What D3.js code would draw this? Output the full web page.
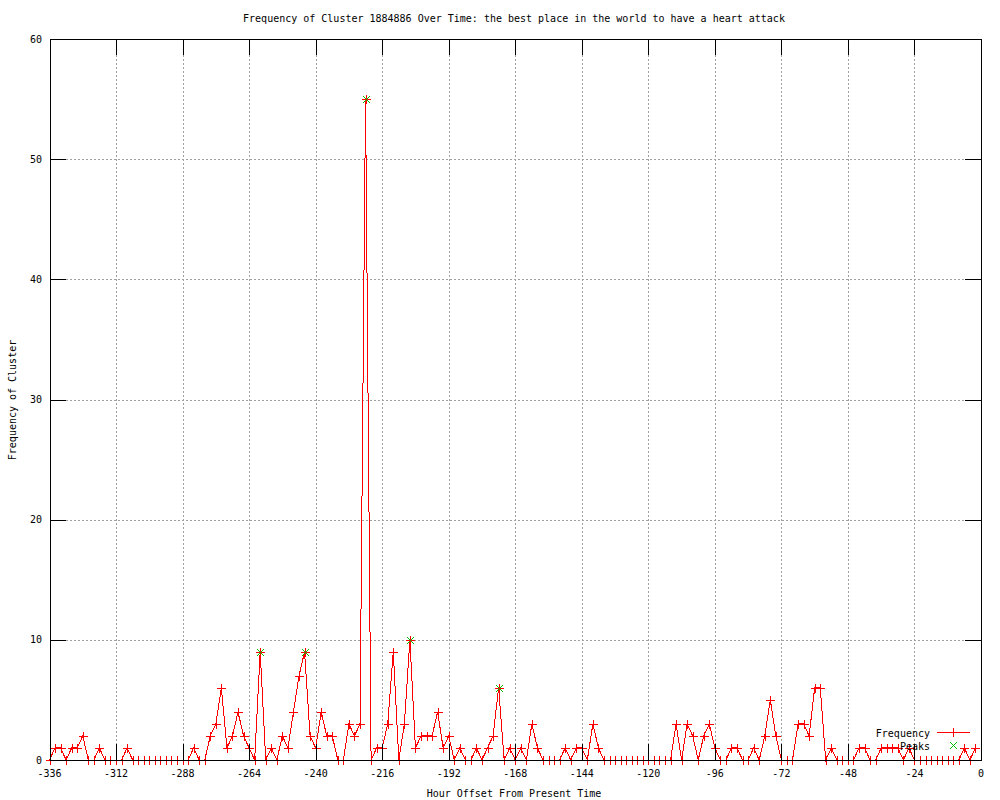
<!DOCTYPE html>
<html>
<head>
<meta charset="utf-8">
<script src="https://cdn.jsdelivr.net/npm/d3@7"></script>
<style>
  html, body { margin: 0; padding: 0; background: #fff; }
  svg text { font-family: "DejaVu Sans Mono", "Liberation Mono", monospace; font-size: 10px; fill: #000; }
</style>
</head>
<body>
<svg id="chart" width="1000" height="800"></svg>
<script>
// ---- data ----
const hours = [
  -336,-334,-332,-330,-328,-326,-324,-322,-320,-318,-316,-314,-312,-310,-308,-306,-304,-302,-300,-298,
  -296,-294,-292,-290,-288,-286,-284,-282,-280,-278,-276,-274,-272,-270,-268,-266,-264,-262,-260,-258,
  -256,-254,-252,-250,-248,-246,-244,-242,-240,-238,-236,-234,-232,-230,-228,-226,-224,-222,-220,-218,
  -216,-214,-212,-210,-208,-206,-204,-202,-200,-198,-196,-194,-192,-190,-188,-186,-184,-182,-180,-178,
  -176,-174,-172,-170,-168,-166,-164,-162,-160,-158,-156,-154,-152,-150,-148,-146,-144,-142,-140,-138,
  -136,-134,-132,-130,-128,-126,-124,-122,-120,-118,-116,-114,-112,-110,-108,-106,-104,-102,-100,-98,
  -96,-94,-92,-90,-88,-86,-84,-82,-80,-78,-76,-74,-72,-70,-68,-66,-64,-62,-60,-58,
  -56,-54,-52,-50,-48,-46,-44,-42,-40,-38,-36,-34,-32,-30,-28,-26,-24,-22,-20,-18,
  -16,-14,-12,-10,-8,-6,-4,-2
];
const frequency = [
  0,1,1,0,1,1,2,0,0,1,0,0,0,0,1,0,0,0,0,0,
  0,0,0,0,0,0,1,0,0,2,3,6,1,2,4,2,1,0,9,0,
  1,0,2,1,4,7,9,2,1,4,2,2,0,0,3,2,3,55,0,1,
  1,3,9,0,3,10,1,2,2,2,4,1,2,0,1,0,0,1,0,1,
  2,6,0,1,0,1,0,3,1,0,0,0,0,1,0,1,1,0,3,1,
  0,0,0,0,0,0,0,0,0,0,0,0,0,3,0,3,2,0,2,3,
  1,0,0,1,1,0,0,1,0,2,5,2,0,0,0,3,3,2,6,6,
  0,1,0,0,0,0,1,1,0,0,1,1,1,1,0,1,0,0,0,0,
  0,0,0,0,0,1,0,1
];
const peakHours = [-260, -244, -222, -206, -174];
const peakValues = [9, 9, 55, 10, 6];
const xTicks = [-336,-312,-288,-264,-240,-216,-192,-168,-144,-120,-96,-72,-48,-24,0];
const yTicks = [0,10,20,30,40,50,60];
const titleText = "Frequency of Cluster 1884886 Over Time: the best place in the world to have a heart attack";
const xLabel = "Hour Offset From Present Time";
const yLabel = "Frequency of Cluster";
const seriesNames = ["Frequency", "Peaks"];

// ---- layout ----
const L = 49.5, R = 981, T = 39, B = 760;
const svg = d3.select("#chart");
const x = d3.scaleLinear().domain([-336, 0]).range([L, R]);
const y = d3.scaleLinear().domain([0, 60]).range([B, T]);
const red = "#ff0000", green = "#00c000", gridCol = "#a0a0a0";
const tickLen = 16;

// grid
const grid = svg.append("g").attr("shape-rendering", "crispEdges");
xTicks.forEach(t => {
  if (t === -336 || t === 0) return;
  grid.append("line").attr("x1", Math.round(x(t)) + 0.5).attr("x2", Math.round(x(t)) + 0.5)
    .attr("y1", T + tickLen).attr("y2", B - tickLen)
    .attr("stroke", gridCol).attr("stroke-dasharray", "2,2");
});
yTicks.forEach(t => {
  if (t === 0 || t === 60) return;
  grid.append("line").attr("y1", Math.round(y(t)) + 0.5).attr("y2", Math.round(y(t)) + 0.5)
    .attr("x1", L + tickLen).attr("x2", R - tickLen)
    .attr("stroke", gridCol).attr("stroke-dasharray", "2,2");
});

// data
const pts = hours.map((h, i) => [h, frequency[i]]);
svg.append("path")
  .attr("d", d3.line().x(d => x(d[0])).y(d => y(d[1]))(pts))
  .attr("fill", "none").attr("stroke", red).attr("stroke-width", 1)
  .attr("shape-rendering", "crispEdges");

const plusPath = (cx, cy, r) => `M${cx - r},${cy}H${cx + r}M${cx},${cy - r}V${cy + r}`;
const xPath = (cx, cy, r) => `M${cx - r},${cy - r}L${cx + r},${cy + r}M${cx - r},${cy + r}L${cx + r},${cy - r}`;

svg.append("g").selectAll("path").data(pts).join("path")
  .attr("d", d => plusPath(Math.round(x(d[0])) + 0.5, Math.round(y(d[1])) + 0.5, 4.5))
  .attr("stroke", red).attr("fill", "none").attr("shape-rendering", "crispEdges");

svg.append("g").selectAll("path").data(peakHours.map((h, i) => [h, peakValues[i]])).join("path")
  .attr("d", d => xPath(Math.round(x(d[0])) + 0.5, Math.round(y(d[1])) + 0.5, 3.5))
  .attr("stroke", green).attr("fill", "none").attr("shape-rendering", "crispEdges");

// border + ticks
const ax = svg.append("g").attr("shape-rendering", "crispEdges").attr("stroke", "#000");
ax.append("rect").attr("x", Math.round(L) + 0.5).attr("y", T + 0.5)
  .attr("width", Math.round(R) - Math.round(L)).attr("height", B - T)
  .attr("fill", "none");
xTicks.forEach(t => {
  const px = Math.round(x(t)) + 0.5;
  ax.append("line").attr("x1", px).attr("x2", px).attr("y1", B).attr("y2", B - tickLen);
  ax.append("line").attr("x1", px).attr("x2", px).attr("y1", T).attr("y2", T + tickLen);
});
yTicks.forEach(t => {
  const py = Math.round(y(t)) + 0.5;
  ax.append("line").attr("y1", py).attr("y2", py).attr("x1", L).attr("x2", L + tickLen);
  ax.append("line").attr("y1", py).attr("y2", py).attr("x1", R).attr("x2", R - tickLen);
});

// tick labels
svg.append("g").selectAll("text").data(xTicks).join("text")
  .attr("x", d => x(d)).attr("y", 777).attr("text-anchor", "middle").text(d => d);
svg.append("g").selectAll("text").data(yTicks).join("text")
  .attr("x", 42).attr("y", d => y(d) + 3.5).attr("text-anchor", "end").text(d => d);

// titles
svg.append("text").attr("x", 514).attr("y", 22).attr("text-anchor", "middle").text(titleText);
svg.append("text").attr("x", 514).attr("y", 797).attr("text-anchor", "middle").text(xLabel);
svg.append("text").attr("transform", "translate(16,400) rotate(-90)").attr("text-anchor", "middle").text(yLabel);

// legend
const lg = svg.append("g");
lg.append("text").attr("x", 930).attr("y", 736.5).attr("text-anchor", "end").text(seriesNames[0]);
lg.append("line").attr("x1", 937).attr("x2", 970).attr("y1", 732.5).attr("y2", 732.5)
  .attr("stroke", red).attr("shape-rendering", "crispEdges");
lg.append("path").attr("d", plusPath(953.5, 732.5, 4.5)).attr("stroke", red).attr("shape-rendering", "crispEdges");
lg.append("text").attr("x", 930).attr("y", 749.5).attr("text-anchor", "end").text(seriesNames[1]);
lg.append("path").attr("d", xPath(953.5, 745.5, 3.5)).attr("stroke", green).attr("fill", "none");
</script>
</body>
</html>
